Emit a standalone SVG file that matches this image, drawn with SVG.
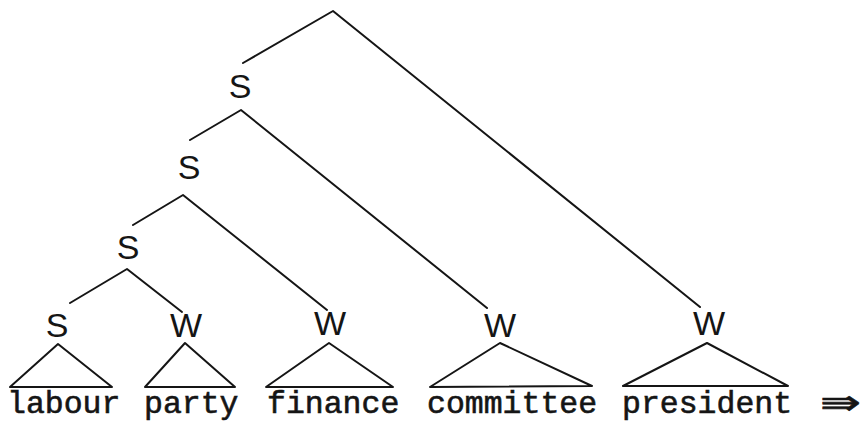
<svg xmlns="http://www.w3.org/2000/svg" width="864" height="422" viewBox="0 0 864 422">
<style>
.e{stroke:#151515;stroke-width:2;fill:none;stroke-linecap:round;stroke-linejoin:round}
.lab{font-family:"Liberation Sans","DejaVu Sans",sans-serif;font-size:34px;fill:#151515;text-anchor:middle}
.word{font-family:"Liberation Mono","DejaVu Sans Mono",monospace;font-size:31.5px;fill:#151515;stroke:#151515;stroke-width:0.6}
.arr{font-family:"DejaVu Sans","Noto Sans",sans-serif;font-size:34px;fill:#151515;stroke:#151515;stroke-width:0.6}
</style>
<rect width="864" height="422" fill="#ffffff"/>
<g id="connectors">
<polyline class="e" points="243,63 333,11 700,307"/>
<polyline class="e" points="190,140 241,110 487,308"/>
<polyline class="e" points="133,225 183,195 327,310"/>
<polyline class="e" points="70,303 127,269 182,312"/>
</g>
<g id="S1"><text class="lab" x="240" y="98">S</text></g>
<g id="S2"><text class="lab" x="189" y="179">S</text></g>
<g id="S3"><text class="lab" x="128" y="259">S</text></g>
<g id="S4"><text class="lab" x="57" y="337">S</text></g>
<g id="W-party"><text class="lab" x="186" y="337">W</text></g>
<g id="W-finance"><text class="lab" x="330" y="335">W</text></g>
<g id="W-committee"><text class="lab" x="500" y="337">W</text></g>
<g id="W-president"><text class="lab" x="709" y="335">W</text></g>
<g id="labour"><polygon class="e" points="58,344 10,387 112,387"/><text class="word" x="7" y="413">labour</text></g>
<g id="party"><polygon class="e" points="185,343 145,387 235,387"/><text class="word" x="144" y="413">party</text></g>
<g id="finance"><polygon class="e" points="329,343 266,387 393,387"/><text class="word" x="267" y="413">finance</text></g>
<g id="committee"><polygon class="e" points="500,343 430,387 592,386"/><text class="word" x="427" y="413">committee</text></g>
<g id="president"><polygon class="e" points="707,343 623,386 788,386"/><text class="word" x="622" y="413">president</text></g>
<g id="arrow"><text class="arr" x="820" y="414" textLength="41" lengthAdjust="spacingAndGlyphs">⇛</text></g>
</svg>
